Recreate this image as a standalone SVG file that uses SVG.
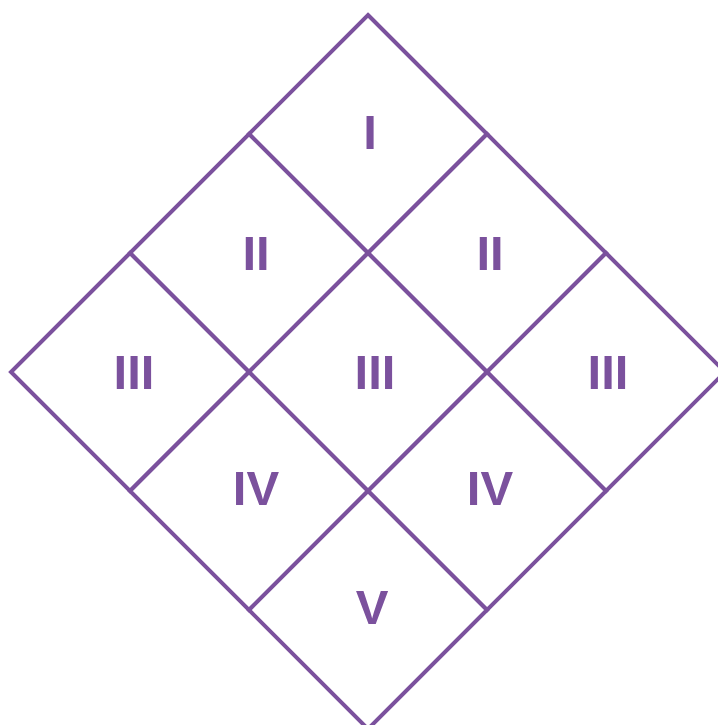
<svg xmlns="http://www.w3.org/2000/svg" width="718" height="725" viewBox="0 0 718 725">
<style>
.cell{fill:#ffffff;stroke:#7b519d;stroke-width:4;stroke-linejoin:miter}
.lbl{fill:#7b519d;font-family:"Liberation Sans",Arial,sans-serif;font-weight:bold;font-size:49px;text-anchor:middle}
</style>
<rect width="718" height="725" fill="#ffffff"/>
<g id="cell-I"><polygon class="cell" points="368,15 487,134 368,253 249,134"/><text class="lbl" x="370" y="149">I</text></g>
<g id="cell-II-left"><polygon class="cell" points="249,134 368,253 249,372 130,253"/><text class="lbl" x="256" y="270">II</text></g>
<g id="cell-II-right"><polygon class="cell" points="487,134 606,253 487,372 368,253"/><text class="lbl" x="490" y="270">II</text></g>
<g id="cell-III-left"><polygon class="cell" points="130,253 249,372 130,491 11,372"/><text class="lbl" x="134" y="389">III</text></g>
<g id="cell-III-mid"><polygon class="cell" points="368,253 487,372 368,491 249,372"/><text class="lbl" x="375" y="389">III</text></g>
<g id="cell-III-right"><polygon class="cell" points="606,253 725,372 606,491 487,372"/><text class="lbl" x="608" y="389">III</text></g>
<g id="cell-IV-left"><polygon class="cell" points="249,372 368,491 249,610 130,491"/><text class="lbl" x="256" y="505">IV</text></g>
<g id="cell-IV-right"><polygon class="cell" points="487,372 606,491 487,610 368,491"/><text class="lbl" x="490" y="505">IV</text></g>
<g id="cell-V"><polygon class="cell" points="368,491 487,610 368,729 249,610"/><text class="lbl" x="372" y="624">V</text></g>
<g id="connectors"></g>
</svg>
